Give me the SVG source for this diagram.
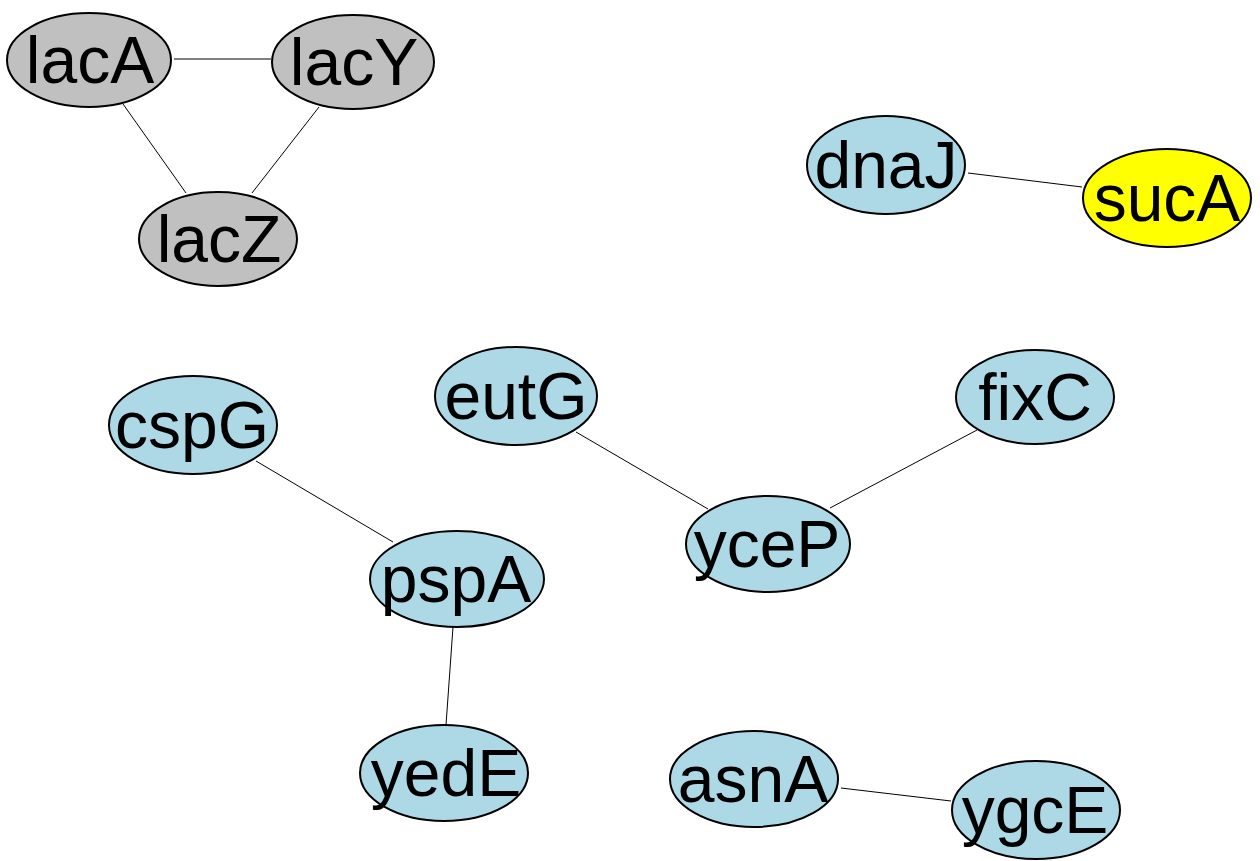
<svg xmlns="http://www.w3.org/2000/svg" width="1260" height="861" viewBox="0 0 1260 861">
<style>
.n ellipse{stroke:#000;stroke-width:2}
.gray{fill:#c0c0c0}
.blue{fill:#add8e6}
.yellow{fill:#ffff00}
text{font-family:"Liberation Sans",Arial,sans-serif;font-size:66px;fill:#000;text-anchor:middle}
#edges line{stroke:#000;stroke-width:1}
</style>
<rect width="1260" height="861" fill="#fff"/>
<g id="edges">
<line x1="174" y1="59" x2="271" y2="59"/>
<line x1="123" y1="104" x2="186" y2="193"/>
<line x1="319" y1="107" x2="252" y2="193"/>
<line x1="968" y1="173" x2="1082" y2="187"/>
<line x1="256" y1="461" x2="393" y2="542"/>
<line x1="453" y1="627" x2="446" y2="725"/>
<line x1="576" y1="432" x2="708" y2="509"/>
<line x1="830" y1="508" x2="977" y2="430"/>
<line x1="841" y1="788" x2="951" y2="801"/>
</g>
<g id="lacA" class="n"><ellipse class="gray" cx="89" cy="60" rx="82" ry="47"/><text x="90" y="83">lacA</text></g>
<g id="lacY" class="n"><ellipse class="gray" cx="353" cy="62" rx="81" ry="47"/><text x="354" y="85">lacY</text></g>
<g id="lacZ" class="n"><ellipse class="gray" cx="218" cy="239" rx="79" ry="47"/><text x="219" y="262">lacZ</text></g>
<g id="dnaJ" class="n"><ellipse class="blue" cx="886" cy="165" rx="79" ry="49"/><text x="886" y="188">dnaJ</text></g>
<g id="sucA" class="n"><ellipse class="yellow" cx="1167" cy="198" rx="84" ry="49"/><text x="1167" y="221">sucA</text></g>
<g id="cspG" class="n"><ellipse class="blue" cx="193" cy="425" rx="84" ry="49"/><text x="192" y="448">cspG</text></g>
<g id="eutG" class="n"><ellipse class="blue" cx="516" cy="396" rx="81" ry="49"/><text x="516" y="419">eutG</text></g>
<g id="fixC" class="n"><ellipse class="blue" cx="1035" cy="397" rx="79" ry="47"/><text x="1035" y="420">fixC</text></g>
<g id="yceP" class="n"><ellipse class="blue" cx="768" cy="544" rx="82" ry="48"/><text x="767" y="567">yceP</text></g>
<g id="pspA" class="n"><ellipse class="blue" cx="457" cy="579" rx="87" ry="48"/><text x="456" y="602">pspA</text></g>
<g id="yedE" class="n"><ellipse class="blue" cx="444" cy="773" rx="84" ry="48"/><text x="446" y="796">yedE</text></g>
<g id="asnA" class="n"><ellipse class="blue" cx="754" cy="779" rx="84" ry="48"/><text x="753" y="802">asnA</text></g>
<g id="ygcE" class="n"><ellipse class="blue" cx="1036" cy="810" rx="84" ry="49"/><text x="1035" y="833">ygcE</text></g>
</svg>
